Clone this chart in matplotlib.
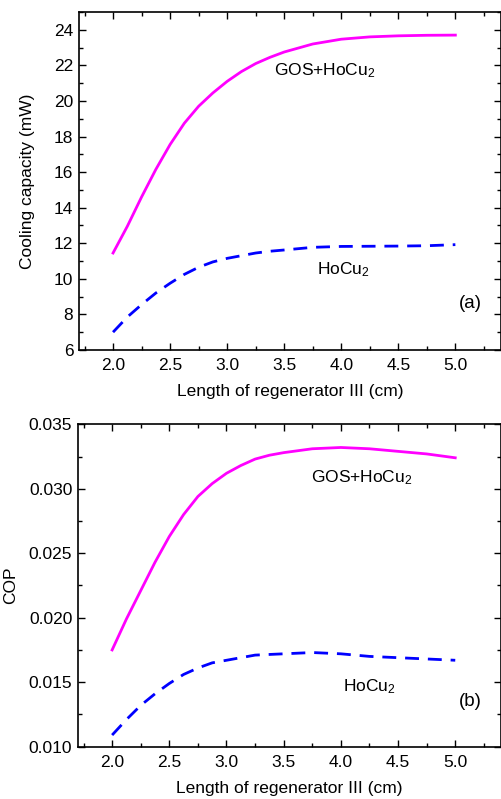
import matplotlib
matplotlib.use("Agg")
import matplotlib.pyplot as plt
from matplotlib.ticker import MultipleLocator, FormatStrFormatter

plt.rcParams['font.family'] = ['Liberation Sans', 'DejaVu Sans']
plt.rcParams['mathtext.fontset'] = 'custom'
plt.rcParams['mathtext.rm'] = 'Liberation Sans'
plt.rcParams['mathtext.it'] = 'Liberation Sans'

length = [2.0, 2.125, 2.25, 2.375, 2.5, 2.625, 2.75, 2.875, 3.0, 3.125, 3.25, 3.375,
          3.5, 3.75, 4.0, 4.25, 4.5, 4.75, 5.0]
cap_gos = [11.45, 12.95, 14.6, 16.15, 17.55, 18.75, 19.7, 20.45, 21.1, 21.65, 22.1, 22.45,
           22.75, 23.2, 23.47, 23.6, 23.66, 23.69, 23.7]
cap_hocu = [7.0, 7.85, 8.55, 9.2, 9.75, 10.25, 10.65, 10.95, 11.15, 11.3, 11.45, 11.55,
            11.62, 11.77, 11.82, 11.83, 11.84, 11.86, 11.92]
cop_gos = [0.0175, 0.0199, 0.0221, 0.0243, 0.0263, 0.0280, 0.0294, 0.0304, 0.0312, 0.0318,
           0.0323, 0.0326, 0.0328, 0.0331, 0.0332, 0.0331, 0.0329, 0.0327, 0.0324]
cop_hocu = [0.0109, 0.0121, 0.0132, 0.0141, 0.0149, 0.0156, 0.0161, 0.0165, 0.0167, 0.0169,
            0.0171, 0.01715, 0.0172, 0.0173, 0.0172, 0.0170, 0.0169, 0.0168, 0.0167]

magenta = '#FF00FF'
blue = '#0000FF'
fs = 12.5

fig = plt.figure(figsize=(5.02, 7.99), dpi=100)
ax1 = fig.add_axes([0.157, 0.562, 0.841, 0.423])
ax2 = fig.add_axes([0.155, 0.0655, 0.843, 0.4035])

def style(ax):
    ax.tick_params(which='both', direction='in', top=True, right=True,
                   labelsize=fs, width=1.0)
    ax.tick_params(which='major', length=5, pad=6)
    ax.tick_params(which='minor', length=3)
    ax.tick_params(axis='y', which='major', pad=4)
    for s in ax.spines.values():
        s.set_linewidth(1.2)
    ax.set_xlim(1.7, 5.4)
    ax.xaxis.set_major_locator(MultipleLocator(0.5))
    ax.xaxis.set_minor_locator(MultipleLocator(0.25))
    ax.xaxis.set_major_formatter(FormatStrFormatter('%.1f'))
    ax.set_xlabel('Length of regenerator III (cm)', fontsize=fs, labelpad=8)

# (a)
ax1.plot(length, cap_gos, color=magenta, lw=2.0)
ax1.plot(length, cap_hocu, color=blue, lw=2.0, dashes=(5, 3.2))
style(ax1)
ax1.set_ylim(6, 25)
ax1.yaxis.set_major_locator(MultipleLocator(2))
ax1.yaxis.set_minor_locator(MultipleLocator(1))
ax1.set_ylabel('Cooling capacity (mW)', fontsize=fs)
ax1.yaxis.set_label_coords(-0.104, 0.5)
ax1.text(3.41, 21.7, 'GOS+HoCu$_2$', fontsize=fs, va='center', ha='left')
ax1.text(3.79, 10.5, 'HoCu$_2$', fontsize=fs, va='center', ha='left')
ax1.text(5.03, 8.6, '(a)', fontsize=fs + 1, va='center', ha='left')

# (b)
ax2.plot(length, cop_gos, color=magenta, lw=2.0)
ax2.plot(length, cop_hocu, color=blue, lw=2.0, dashes=(5, 3.2))
style(ax2)
ax2.set_ylim(0.010, 0.035)
ax2.yaxis.set_major_locator(MultipleLocator(0.005))
ax2.yaxis.set_minor_locator(MultipleLocator(0.0025))
ax2.yaxis.set_major_formatter(FormatStrFormatter('%.3f'))
ax2.set_ylabel('COP', fontsize=fs)
ax2.yaxis.set_label_coords(-0.141, 0.5)
ax2.text(3.74, 0.03084, 'GOS+HoCu$_2$', fontsize=fs, va='center', ha='left')
ax2.text(4.02, 0.01465, 'HoCu$_2$', fontsize=fs, va='center', ha='left')
ax2.text(5.03, 0.01349, '(b)', fontsize=fs + 1, va='center', ha='left')

fig.savefig('out.png', dpi=100)
